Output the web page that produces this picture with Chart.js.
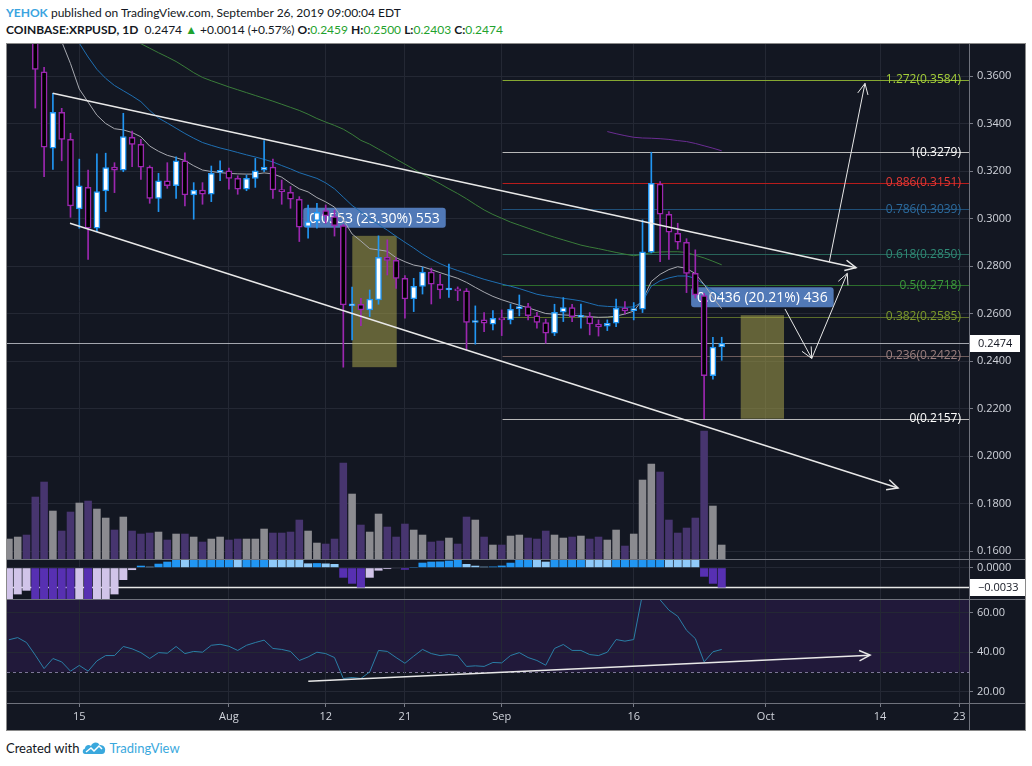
<!DOCTYPE html>
<html>
<head>
<meta charset="utf-8">
<title>COINBASE:XRPUSD 1D</title>
<script src="https://cdn.jsdelivr.net/npm/chart.js@4.4.1/dist/chart.umd.min.js"></script>
<style>
  html, body { margin: 0; padding: 0; background: #ffffff; }
  body { position: relative; width: 1032px; height: 766px; overflow: hidden; font-family: Lato, 'Open Sans', sans-serif; color: #131722; }
  .hdr { position: absolute; left: 6px; font-size: 12px; white-space: nowrap; }
  #h1 { top: 5px; }
  #h2 { top: 22px; }
  .user { color: #3ba4e0; font-weight: 700; }
  .b { font-weight: 700; }
  .g { color: #1fa22e; }
  #frame { position: absolute; left: 6px; top: 43px; width: 1020px; height: 688px; box-sizing: border-box; border: 1px solid #8a8a8a; background: #131722; }
  canvas { position: absolute; left: 7px; }
  .sep { position: absolute; background: #6f727c; }
  #foot { position: absolute; left: 6px; top: 740px; font-size: 13px; display: flex; align-items: center; gap: 3px; }
  #foot .tv { color: #3aa8dd; }
</style>
</head>
<body>
<div class="hdr" id="h1"><span class="user">YEHOK</span> published on TradingView.com, September 26, 2019 09:00:04 EDT</div>
<div class="hdr" id="h2"><span class="b">COINBASE:XRPUSD, 1D</span>&nbsp; 0.2474 <span class="g">▲</span> +0.0014 (+0.57%) <span class="b">O:</span><span class="g">0.2459</span> <span class="b">H:</span><span class="g">0.2500</span> <span class="b">L:</span><span class="g">0.2403</span> <span class="b">C:</span><span class="g">0.2474</span></div>
<div id="frame"></div>
<canvas id="cMain" width="1018" height="515" style="top:44px"></canvas>
<canvas id="cMacd" width="1018" height="39" style="top:560px"></canvas>
<canvas id="cRsi" width="1018" height="130" style="top:600px"></canvas>
<div class="sep" style="left:7px;top:559px;width:1018px;height:1px"></div>
<div class="sep" style="left:7px;top:599px;width:1018px;height:1px"></div>
<div class="sep" style="left:7px;top:703px;width:1018px;height:1px"></div>
<div class="sep" style="left:969px;top:44px;width:1px;height:686px"></div>
<div id="foot">Created with <svg width="24" height="14" viewBox="0 0 24 14"><path d="M3 13 C0 13 0 8 3 7.5 C3 4 7 3 9 5 C10 1 16 0 17.5 4 C21 3.5 24 6.5 23 10 C23 12 21.5 13 20 13 Z" fill="#3aa8dd"/><polyline points="4,11 9,7 12,10 17,5 20,8" fill="none" stroke="#fff" stroke-width="1.5"/></svg><span class="tv">TradingView</span></div>

<script>
// daily bars, first bar 2019-07-07
const startDate = '2019-07-07';

const open = [0.392,0.400,0.408,0.398,0.3618,0.3296,0.3447,0.3333,0.304,0.3131,0.2959,0.3116,0.3216,0.3204,0.3342,0.3312,0.3216,0.3085,0.3159,0.3138,0.3243,0.3099,0.312,0.3102,0.3194,
  0.3201,0.3169,0.3123,0.3169,0.3204,0.3216,0.312,0.311,0.3081,0.2966,0.2991,0.3033,0.3008,0.297,0.2632,0.2639,0.2615,0.2657,0.2837,0.2824,0.2748,0.2661,0.2714,0.2774,0.2723,0.2699,0.2703,0.2695,0.2562,0.2573,0.2555,
  0.258,0.2573,0.262,0.2629,0.259,0.2562,0.2517,0.2606,0.2625,0.2585,0.2587,0.2555,0.2547,0.2559,0.2622,0.2612,0.2618,0.2858,0.3145,0.3018,0.2938,0.29,0.2769,0.2675,0.2338,0.2459];
const high = [0.405,0.412,0.410,0.402,0.3637,0.3527,0.3464,0.3359,0.325,0.3204,0.3272,0.3275,0.3235,0.3443,0.3368,0.3333,0.3222,0.319,0.3235,0.326,0.3277,0.3151,0.3151,0.3221,0.3243,
  0.3212,0.318,0.3183,0.3253,0.3328,0.325,0.3162,0.3135,0.3092,0.3057,0.3064,0.3057,0.3035,0.2975,0.2711,0.2664,0.2699,0.2927,0.291,0.2835,0.276,0.2748,0.2795,0.2791,0.2765,0.2808,0.2712,0.2705,0.2632,0.2604,0.2612,
  0.2615,0.264,0.2678,0.2643,0.2605,0.2576,0.2639,0.2667,0.2639,0.264,0.2604,0.2573,0.2573,0.2661,0.265,0.2646,0.2994,0.3279,0.3155,0.3029,0.298,0.2915,0.2868,0.2685,0.25,0.25];
const low = [0.388,0.395,0.385,0.3465,0.3176,0.3207,0.3243,0.3005,0.2959,0.2828,0.2945,0.3029,0.3109,0.3197,0.3218,0.3165,0.3064,0.3029,0.3127,0.3085,0.3053,0.2997,0.306,0.3071,0.3159,
  0.3124,0.3102,0.3117,0.3131,0.3197,0.3085,0.306,0.3043,0.2903,0.2917,0.2959,0.298,0.2926,0.2374,0.2489,0.2549,0.2587,0.2639,0.2762,0.2706,0.258,0.2608,0.2682,0.264,0.2664,0.2668,0.2654,0.2447,0.2471,0.2524,0.2531,
  0.2507,0.2556,0.259,0.2573,0.2538,0.2475,0.2507,0.2566,0.2566,0.2538,0.251,0.2505,0.2528,0.2545,0.2597,0.2573,0.2604,0.2855,0.2818,0.2828,0.2871,0.2688,0.2665,0.2157,0.2323,0.2403];
const close = [0.400,0.408,0.398,0.3628,0.330,0.3447,0.3333,0.3053,0.3138,0.2959,0.3113,0.3214,0.3204,0.3345,0.3312,0.3216,0.3085,0.3159,0.3138,0.3243,0.3099,0.312,0.3102,0.319,0.3201,
  0.3169,0.3123,0.3169,0.3201,0.3216,0.312,0.3113,0.3081,0.2963,0.2987,0.3026,0.3011,0.297,0.2636,0.2638,0.2615,0.2661,0.2837,0.2824,0.2748,0.2661,0.2714,0.2774,0.2723,0.2699,0.2704,0.2695,0.2562,0.2568,0.2559,0.258,
  0.2573,0.2618,0.2629,0.2591,0.2562,0.2517,0.2605,0.2625,0.2587,0.2589,0.2556,0.2543,0.2559,0.2622,0.2611,0.2617,0.286,0.3148,0.3018,0.2942,0.29,0.2769,0.2678,0.2338,0.2459,0.2474];

// volume, millions
const volume = [20.3,22.3,24.3,62.3,77.3,48.3,28.3,47.3,56.3,58.3,50.3,41.3,29.3,42.3,28.3,25.3,26.3,27.3,19.3,25.3,25.3,22.3,17.3,20.3,22.3,
  19.3,20.3,20.3,20.3,30.3,26.3,26.3,27.3,39.3,28.3,16.3,15.3,20.3,96.3,65.3,34.3,27.3,45.3,32.3,22.3,35.3,29.3,24.3,17.3,18.3,21.3,15.3,42.3,39.3,22.3,14.3,
  14.3,23.3,24.3,21.3,20.3,28.3,24.3,21.3,22.3,23.3,20.3,22.3,19.3,29.3,13.3,25.3,79.3,95.3,87.3,39.3,26.3,31.3,41.3,128.3,53.3,14.3];

// moving averages
const maFast = [0.412,0.405,0.398,0.392,0.385,0.379,0.3745,0.3652,0.3545,0.349,0.3435,0.340,0.3378,0.3373,0.3362,0.3344,0.3305,0.3283,0.3266,0.3256,0.3244,0.3222,0.3204,0.3198,0.3193,
  0.319,0.3188,0.3187,0.3187,0.3192,0.3188,0.3174,0.3148,0.3125,0.3112,0.3088,0.307,0.3048,0.2995,0.2935,0.2905,0.2873,0.2868,0.2862,0.2835,0.2818,0.2804,0.2797,0.2785,0.2772,0.2760,0.2748,0.2731,0.2710,0.2690,0.2672,
  0.2658,0.2646,0.2635,0.2624,0.2612,0.2600,0.2597,0.2594,0.2592,0.2590,0.2587,0.2584,0.2585,0.2589,0.2598,0.2610,0.2657,0.2735,0.2765,0.2785,0.2797,0.2790,0.2768,0.2722,0.2668,0.2620];
const maMid = [0.425,0.418,0.411,0.404,0.397,0.39,0.384,0.378,0.3738,0.368,0.3628,0.359,0.356,0.3538,0.3516,0.3492,0.3455,0.3423,0.3402,0.338,0.3358,0.3338,0.332,0.3308,0.3297,
  0.3288,0.3278,0.3268,0.3259,0.3249,0.3238,0.3223,0.3209,0.3193,0.3181,0.3169,0.315,0.3125,0.309,0.3055,0.3028,0.2998,0.2975,0.2951,0.2925,0.29,0.2876,0.285,0.2828,0.281,0.2794,0.2781,0.2769,0.2756,0.2744,0.2734,
  0.2724,0.2715,0.2705,0.2693,0.2681,0.2674,0.2669,0.2664,0.2659,0.2653,0.2643,0.2633,0.263,0.2628,0.2626,0.2628,0.265,0.2715,0.2738,0.275,0.2758,0.2758,0.2748,0.2722,0.2695,0.267];
const maSlow = [0.398,0.396,0.394,0.392,0.39,0.388,0.386,0.384,0.3825,0.381,0.3795,0.378,0.3768,0.3757,0.3746,0.3736,0.3717,0.3698,0.368,0.3661,0.3638,0.3614,0.3594,0.358,0.3567,
  0.3554,0.3542,0.353,0.3518,0.3506,0.3494,0.3481,0.3468,0.3455,0.3439,0.3421,0.3406,0.3392,0.3376,0.3354,0.3329,0.3313,0.3292,0.3271,0.325,0.3229,0.3208,0.3187,0.3166,0.3146,0.3125,0.3105,0.3083,0.3059,0.3036,0.3017,
  0.3001,0.2985,0.2972,0.2959,0.2946,0.2933,0.2921,0.291,0.2899,0.2888,0.288,0.2873,0.2865,0.2857,0.285,0.2843,0.2849,0.2856,0.2859,0.286,0.286,0.2857,0.2845,0.2834,0.282,0.2805];
const maLong = [null,null,null,null,null,null,null,null,null,null,null,null,null,null,null,null,null,null,null,null,null,null,null,null,null,
  null,null,null,null,null,null,null,null,null,null,null,null,null,null,null,null,null,null,null,null,null,null,null,null,null,null,null,null,null,null,null,
  null,null,null,null,null,null,null,null,null,null,null,null,0.3366,0.3357,0.3349,0.3342,0.3339,0.3338,0.3336,0.3333,0.3328,0.3324,0.3316,0.3306,0.3296,0.3285];

// MACD histogram
const macdHist = [-0.0056,-0.00456,-0.00393,-0.0058,-0.0064,-0.0067,-0.0070,-0.0074,-0.0071,-0.0073,-0.0068,-0.0060,-0.00456,-0.0021,-0.0004,0.00034,0.00017,0.00068,0.00103,0.0016,0.0015,0.0017,0.0019,0.0021,0.0023,
  0.0024,0.0022,0.0023,0.0025,0.0027,0.0025,0.0022,0.0019,0.0015,0.00074,0.00078,0.00072,0.00063,-0.00171,-0.00274,-0.0034,-0.00171,-0.0005,-0.00023,-0.0001,-0.00034,0.00003,0.00086,0.00103,0.00106,0.0012,0.0016,0.00063,0.00034,0.00017,0.0002,
  0.00036,0.00085,0.0015,0.0017,0.0016,0.00103,0.0015,0.0017,0.0019,0.0020,0.0019,0.0018,0.0017,0.0018,0.0019,0.0020,0.0024,0.0030,0.0031,0.0028,0.0024,0.0018,0.0015,-0.00154,-0.00274,-0.0034];
const macdLevel = -0.0033;

// RSI
const rsi = [46.3,47.4,44.9,38.5,31.7,36.8,35.1,30.4,33.3,30.4,35.6,38.3,38.3,42.9,41.7,39.8,36.8,39.8,39.5,42.9,39.3,40.4,40.0,43.5,44.0,
  43.0,40.9,43.5,44.9,46.1,41.9,41.4,40.4,35.8,37.6,40.0,39.3,37.3,26.7,27.2,26.7,30.0,40.9,40.4,37.3,34.4,38.0,41.4,39.3,38.3,38.8,38.3,32.8,33.1,32.8,34.8,
  34.6,38.3,39.8,37.3,35.8,33.4,41.9,43.9,40.9,40.9,38.8,38.3,40.0,46.4,45.6,46.4,69.5,74.0,66.5,61.3,58.2,51.1,46.9,35.1,40.2,41.4];
const rsiBand = [30, 70];

// time axis
const tickDates = ['2019-07-15','2019-08-01','2019-08-12','2019-08-21','2019-09-01','2019-09-16','2019-10-01','2019-10-14','2019-10-23'];
const tickLabels = ['15','Aug','12','21','Sep','16','Oct','14','23'];
const priceTicks = [0.16,0.18,0.20,0.22,0.24,0.26,0.28,0.30,0.32,0.34,0.36];
const rsiTicks = [20, 40, 60];
const macdTicks = [0];

const lastPrice = 0.2474;

// fibonacci retracement
const fibRatios = ['1.272','1','0.886','0.786','0.618','0.5','0.382','0.236','0'];
const fibPrices = [0.3584,0.3279,0.3151,0.3039,0.2850,0.2718,0.2585,0.2422,0.2157];
const fibStartDay = 56.1;

// drawings (day index from startDate, price)
const upperTrendDays = [4.98, 96.26], upperTrendPrices = [0.3527, 0.2793];
const lowerTrendDays = [6.94, 101.03], lowerTrendPrices = [0.2980, 0.1865];
const arrowDays = [[88.19, 91.23], [91.23, 95.27], [93.23, 97.28]];
const arrowPrices = [[0.2619, 0.2411], [0.2411, 0.2769], [0.2818, 0.3569]];
const rsiTrendDays = [34.02, 97.86], rsiTrendValues = [25.3, 38.5];

const measureFrom = [39.02, 83.16], measureTo = [44.07, 88.08];
const measureLow = [0.2374, 0.2157], measureHigh = [0.2927, 0.2593];
const measureText = ['0.0553 (23.30%) 553', '0.0436 (20.21%) 436'];

// ---- styles
const BG = '#131722', GRID = '#242834', AXIS = '#787b86', TXT = '#d1d4dc';
const UP = '#2196f3', DOWN = '#9c27b0';
const fibTextColors = ['#a5cf3a','#ffffff','#e53935','#2c6b9e','#2f8a76','#3b9a3b','#7d9b2b','#9c8080','#ffffff'];
const fibLineColors = ['#86a832','#b8b8b8','#b71c1c','#1f4f78','#28645a','#2d6e2d','#5b6d2a','#6e5c5c','#b8b8b8'];

Chart.defaults.font.family = "'Open Sans', sans-serif";
Chart.defaults.font.size = 11;
Chart.defaults.color = TXT;

const dayMs = 864e5;
const t0 = Date.parse(startDate);
const tickDays = tickDates.map(d => (Date.parse(d) - t0) / dayMs);
const days = open.map((_, i) => i);
const isUp = close.map((c, i) => c >= open[i]);

const xMin = -0.216, xMax = 109.1;

function xHidden() {
  return {
    type: 'linear', min: xMin, max: xMax, offset: false,
    afterBuildTicks: s => { s.ticks = tickDays.map(v => ({ value: v })); },
    ticks: { display: false },
    grid: { color: GRID, drawTicks: false, offset: false },
    border: { display: false },
    afterFit: s => { s.height = 0; s.paddingLeft = 0; s.paddingRight = 0; }
  };
}

function yAxis(min, max, ticks, fmt) {
  return {
    position: 'right', min, max,
    afterBuildTicks: s => { s.ticks = ticks.map(v => ({ value: v })); },
    ticks: { color: TXT, padding: 4, callback: v => fmt(v) },
    grid: { color: GRID, tickLength: 4, tickColor: AXIS },
    border: { display: false },
    afterFit: s => { s.width = 56; s.paddingTop = 0; s.paddingBottom = 0; }
  };
}

const baseOpts = {
  responsive: false, animation: false, events: [],
  layout: { padding: 0 },
  plugins: { legend: { display: false }, tooltip: { enabled: false } }
};

const arrowHeads = {
  id: 'arrowHeads',
  afterDatasetsDraw(chart) {
    const ctx = chart.ctx;
    chart.data.datasets.forEach((ds, i) => {
      if (!ds.arrowHead) return;
      const pts = chart.getDatasetMeta(i).data;
      const a = pts[pts.length - 2], b = pts[pts.length - 1];
      const ang = Math.atan2(b.y - a.y, b.x - a.x);
      const len = 12, spread = 0.45;
      ctx.save();
      ctx.strokeStyle = ds.borderColor;
      ctx.lineWidth = ds.borderWidth;
      ctx.beginPath();
      ctx.moveTo(b.x - len * Math.cos(ang - spread), b.y - len * Math.sin(ang - spread));
      ctx.lineTo(b.x, b.y);
      ctx.lineTo(b.x - len * Math.cos(ang + spread), b.y - len * Math.sin(ang + spread));
      ctx.stroke();
      ctx.restore();
    });
  }
};

const toPts = (xs, ys) => xs.map((x, i) => ({ x, y: ys[i] }));
const drawLine = (xs, ys, width, arrow, order) => ({
  type: 'line', data: toPts(xs, ys), borderColor: '#e8e8e8', borderWidth: width,
  pointRadius: 0, arrowHead: arrow, order
});
const maLine = (vals, color) => ({
  type: 'line', data: days.map(i => ({ x: i, y: vals[i] })), borderColor: color,
  borderWidth: 1, pointRadius: 0, tension: 0, order: 6
});

// ---- main pane
const mainOverlay = {
  id: 'mainOverlay',
  beforeDatasetsDraw(chart) {
    const { ctx, chartArea: a, scales: { x, y } } = chart;
    ctx.save();
    ctx.beginPath(); ctx.rect(a.left, a.top, a.width, a.height); ctx.clip();
    ctx.lineWidth = 1;
    const lp = Math.round(y.getPixelForValue(lastPrice)) + 0.5;
    ctx.strokeStyle = 'rgba(200,202,210,0.8)';
    ctx.beginPath(); ctx.moveTo(a.left, lp); ctx.lineTo(a.right, lp); ctx.stroke();
    const fx = x.getPixelForValue(fibStartDay);
    fibPrices.forEach((p, i) => {
      const py = Math.round(y.getPixelForValue(p)) + 0.5;
      ctx.strokeStyle = fibLineColors[i];
      ctx.beginPath(); ctx.moveTo(fx, py); ctx.lineTo(a.right, py); ctx.stroke();
    });
    ctx.font = "14px 'Open Sans'";
    measureText.forEach((t, i) => {
      const x0 = x.getPixelForValue(measureFrom[i]), x1 = x.getPixelForValue(measureTo[i]);
      const y0 = y.getPixelForValue(measureHigh[i]), y1 = y.getPixelForValue(measureLow[i]);
      ctx.fillStyle = 'rgba(172,166,76,0.52)';
      ctx.fillRect(x0, y0, x1 - x0, y1 - y0);
      const w = ctx.measureText(t).width + 12, h = 20, cx = (x0 + x1) / 2, by = y0 - 8;
      ctx.fillStyle = 'rgba(84,126,192,0.95)';
      ctx.beginPath(); ctx.roundRect(cx - w / 2, by - h, w, h, 3); ctx.fill();
      ctx.fillStyle = '#ffffff'; ctx.textAlign = 'center'; ctx.textBaseline = 'middle';
      ctx.fillText(t, cx, by - h / 2 + 1);
    });
    ctx.restore();
  },
  afterDatasetsDraw(chart) {
    const { ctx, chartArea: a, scales: { y } } = chart;
    ctx.save();
    ctx.font = "12px 'Open Sans'"; ctx.textAlign = 'right'; ctx.textBaseline = 'middle';
    fibRatios.forEach((r, i) => {
      ctx.fillStyle = fibTextColors[i];
      ctx.fillText(r + '(' + fibPrices[i].toFixed(4) + ')', a.right - 8, y.getPixelForValue(fibPrices[i]));
    });
    const ly = y.getPixelForValue(lastPrice);
    ctx.fillStyle = '#ffffff';
    ctx.fillRect(a.right + 1, Math.round(ly) - 8, 50, 17);
    ctx.fillStyle = BG; ctx.textAlign = 'left'; ctx.font = "11px 'Open Sans'";
    ctx.fillText(lastPrice.toFixed(4), a.right + 9, ly + 0.5);
    ctx.restore();
  }
};

new Chart(document.getElementById('cMain'), {
  type: 'bar',
  data: {
    datasets: [
      drawLine(upperTrendDays, upperTrendPrices, 1.5, true, 1),
      drawLine(lowerTrendDays, lowerTrendPrices, 1.5, true, 1),
      ...arrowDays.map((d, i) => drawLine(d, arrowPrices[i], 1, true, 1)),
      {
        label: 'body', data: days.map(i => ({ x: i, y: [open[i], close[i]] })),
        backgroundColor: isUp.map(u => u ? '#ffffff' : '#000000'),
        borderColor: isUp.map(u => u ? UP : DOWN),
        borderWidth: 1.5, borderSkipped: false, barThickness: 6, minBarLength: 2,
        grouped: false, order: 3
      },
      {
        label: 'wick', data: days.map(i => ({ x: i, y: [low[i], high[i]] })),
        backgroundColor: isUp.map(u => u ? UP : DOWN),
        barThickness: 1, grouped: false, order: 4
      },
      maLine(maFast, '#a7a9b0'),
      maLine(maMid, '#1f6fb2'),
      maLine(maSlow, '#3a7d3a'),
      maLine(maLong, '#6b2d93'),
      {
        label: 'volume', yAxisID: 'yv', data: days.map(i => ({ x: i, y: volume[i] })),
        backgroundColor: isUp.map(u => u ? '#8b8b90' : '#47356f'),
        barPercentage: 0.86, categoryPercentage: 1, grouped: false, order: 9
      }
    ]
  },
  options: {
    ...baseOpts,
    scales: {
      x: xHidden(),
      y: yAxis(0.156632, 0.373474, priceTicks, v => v.toFixed(4)),
      yv: { display: false, min: 0, max: 515 }
    }
  },
  plugins: [mainOverlay, arrowHeads]
});

// ---- MACD pane
const macdColors = macdHist.map((v, i) => {
  const p = i ? macdHist[i - 1] : v;
  if (v >= 0) return v >= p ? '#2196f3' : '#90caf9';
  return (i === 0 || v > p) ? '#d1c4e9' : '#5730b2';
});

const macdOverlay = {
  id: 'macdOverlay',
  beforeDatasetsDraw(chart) {
    const { ctx, chartArea: a, scales: { y } } = chart;
    const ly = Math.round(y.getPixelForValue(macdLevel)) + 0.5;
    ctx.save();
    ctx.strokeStyle = '#e8e8e8'; ctx.lineWidth = 1.5;
    ctx.beginPath(); ctx.moveTo(a.left, ly); ctx.lineTo(a.right, ly); ctx.stroke();
    ctx.restore();
  },
  afterDatasetsDraw(chart) {
    const { ctx, chartArea: a, scales: { y } } = chart;
    const ly = y.getPixelForValue(macdLevel);
    ctx.save();
    ctx.fillStyle = '#ffffff';
    ctx.fillRect(a.right + 1, Math.round(ly) - 8, chart.width - a.right - 1, 17);
    ctx.fillStyle = BG; ctx.font = "11px 'Open Sans'"; ctx.textBaseline = 'middle';
    ctx.fillText('\u2212' + Math.abs(macdLevel).toFixed(4), a.right + 9, ly + 0.5);
    ctx.restore();
  }
};

new Chart(document.getElementById('cMacd'), {
  type: 'bar',
  data: {
    datasets: [{
      label: 'MACD', data: days.map(i => ({ x: i, y: macdHist[i] })),
      backgroundColor: macdColors, barPercentage: 0.92, categoryPercentage: 1
    }]
  },
  options: {
    ...baseOpts,
    scales: {
      x: xHidden(),
      y: yAxis(-0.005352, 0.001317, macdTicks, v => v.toFixed(4))
    }
  },
  plugins: [macdOverlay]
});

// ---- RSI pane
const rsiOverlay = {
  id: 'rsiOverlay',
  beforeDraw(chart) {
    const { ctx, chartArea: a, scales: { y } } = chart;
    const top = Math.max(a.top, y.getPixelForValue(rsiBand[1]));
    const bot = Math.min(a.bottom, y.getPixelForValue(rsiBand[0]));
    ctx.save();
    ctx.fillStyle = '#21193a';
    ctx.fillRect(a.left, top, a.width, bot - top);
    ctx.strokeStyle = 'rgba(170,160,200,0.7)'; ctx.lineWidth = 1; ctx.setLineDash([3, 3]);
    rsiBand.forEach(v => {
      const py = Math.round(y.getPixelForValue(v)) + 0.5;
      if (py < a.top || py > a.bottom) return;
      ctx.beginPath(); ctx.moveTo(a.left, py); ctx.lineTo(a.right, py); ctx.stroke();
    });
    ctx.restore();
  }
};

new Chart(document.getElementById('cRsi'), {
  type: 'line',
  data: {
    datasets: [
      drawLine(rsiTrendDays, rsiTrendValues, 1.5, true, 1),
      {
        label: 'RSI', data: days.map(i => ({ x: i, y: rsi[i] })), borderColor: '#2a7ea6',
        borderWidth: 1, pointRadius: 0, tension: 0, order: 2
      }
    ]
  },
  options: {
    ...baseOpts,
    scales: {
      x: {
        type: 'linear', min: xMin, max: xMax, offset: false,
        afterBuildTicks: s => { s.ticks = tickDays.map(v => ({ value: v })); },
        ticks: { color: TXT, autoSkip: false, maxRotation: 0, padding: 3, callback: (v, i) => tickLabels[i] },
        grid: { color: GRID, tickLength: 4, tickColor: AXIS },
        border: { display: false },
        afterFit: s => { s.height = 27; s.paddingLeft = 0; s.paddingRight = 0; }
      },
      y: yAxis(14.28, 66.43, rsiTicks, v => v.toFixed(2))
    }
  },
  plugins: [rsiOverlay, arrowHeads]
});
</script>
</body>
</html>
